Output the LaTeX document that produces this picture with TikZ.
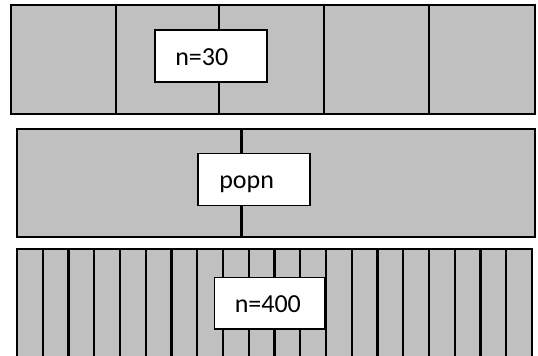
\documentclass[tikz,border=0pt]{standalone}
\usepackage{fontspec}
\setmainfont{Carlito}
\definecolor{stripgray}{RGB}{192,192,192}
\tikzset{
  strip/.style={draw, line width=1.8pt, fill=stripgray},
  divider/.style={line width=1.8pt},
  labelbox/.style={draw, fill=white, line width=1.2pt, inner sep=0pt, anchor=north west},
  labeltext/.style={anchor=base west, inner sep=0pt, font=\fontsize{19.5}{23}\selectfont},
}
\begin{document}
\begin{tikzpicture}[x=0.75pt,y=0.75pt,yscale=-1,xscale=1]
\useasboundingbox (0,0) rectangle (538,355);

%Shape: Rectangle [sample n=30]
\draw [strip] (11,5) rectangle (535,114);
\foreach \x in {116.2,219.1,323.7,429}
  \draw [divider] (\x,5) -- (\x,114);

%Shape: Rectangle [population]
\draw [strip] (17,129) rectangle (535,237);
\draw [divider] (241.5,129) -- (241.5,237);

%Shape: Rectangle [sample n=400]
\draw [strip] (17,249) rectangle (532,372);
\foreach \k in {1,...,19}
  \draw [divider] (17+\k*25.75,249) -- (17+\k*25.75,372);

% Label boxes
\node (boxA) [labelbox, minimum width=84pt, minimum height=39pt] at (154,29) {};
\node (txtA) [labeltext] at (175,65) {n=30};

\node (boxB) [labelbox, minimum width=84pt, minimum height=39pt] at (197,152.5) {};
\node (txtB) [labeltext] at (219,188.5) {popn};

\node (boxC) [labelbox, minimum width=82.5pt, minimum height=38.5pt] at (213.6,276.7) {};
\node (txtC) [labeltext] at (234.5,312.3) {n=400};

\end{tikzpicture}
\end{document}
